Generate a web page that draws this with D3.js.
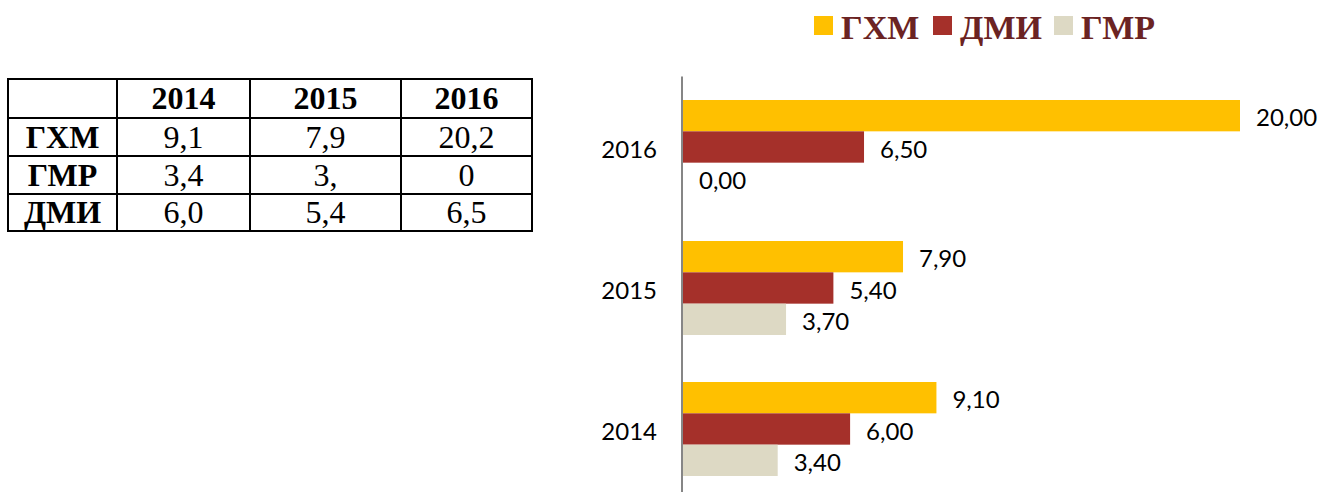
<!DOCTYPE html>
<html>
<head>
<meta charset="utf-8">
<script src="https://cdn.jsdelivr.net/npm/d3@7"></script>
<style>
  html, body { margin: 0; padding: 0; background: #fff; }
  svg { display: block; }
</style>
</head>
<body>
<svg id="chart" width="1332" height="492"></svg>
<script>
// ---- data ----
const years = ["2014", "2015", "2016"];
const seriesNames = ["ГХМ", "ДМИ", "ГМР"];
const valuesGXM = [9.1, 7.9, 20.0];
const valuesDMI = [6.0, 5.4, 6.5];
const valuesGMR = [3.4, 3.7, 0.0];
// table (as printed)
const tableHeader = ["", "2014", "2015", "2016"];
const tableRowNames = ["ГХМ", "ГМР", "ДМИ"];
const tableGXM = ["9,1", "7,9", "20,2"];
const tableGMR = ["3,4", "3,", "0"];
const tableDMI = ["6,0", "5,4", "6,5"];

const colors = { "ГХМ": "#FFC000", "ДМИ": "#A5302A", "ГМР": "#DDD9C4" };

const svg = d3.select("#chart");
const locale = d3.formatLocale({ decimal: ",", thousands: " ", grouping: [3], currency: ["", ""] });
const fmt = locale.format(".2f");

// ---- table ----
const colX = [8, 117, 250, 401, 532];
const rowY = [79, 118, 156, 194, 231];
const tableRows = [tableHeader,
  [tableRowNames[0], ...tableGXM],
  [tableRowNames[1], ...tableGMR],
  [tableRowNames[2], ...tableDMI]];
const tg = svg.append("g");
tg.selectAll("line.h").data(rowY).join("line")
  .attr("x1", colX[0] - 1).attr("x2", colX[colX.length - 1] + 1)
  .attr("y1", d => d).attr("y2", d => d)
  .attr("stroke", "#000").attr("stroke-width", 2);
tg.selectAll("line.v").data(colX).join("line")
  .attr("y1", rowY[0]).attr("y2", rowY[rowY.length - 1])
  .attr("x1", d => d).attr("x2", d => d)
  .attr("stroke", "#000").attr("stroke-width", 2);
tableRows.forEach((row, ri) => {
  row.forEach((txt, ci) => {
    if (!txt) return;
    const bold = ri === 0 || ci === 0;
    tg.append("text")
      .attr("x", (colX[ci] + colX[ci + 1]) / 2)
      .attr("y", (rowY[ri] + rowY[ri + 1]) / 2 + 10.5)
      .attr("text-anchor", "middle")
      .attr("font-family", "'Liberation Serif', 'Times New Roman', serif")
      .attr("font-size", 32)
      .attr("font-weight", bold ? "bold" : "normal")
      .attr("fill", "#000")
      .text(txt);
  });
});

// ---- bar chart ----
const chartYears = ["2016", "2015", "2014"];
const valueOf = {
  "ГХМ": valuesGXM, "ДМИ": valuesDMI, "ГМР": valuesGMR
};
const x = d3.scaleLinear().domain([0, 20]).range([683, 1240]);
const y0 = d3.scaleBand().domain(chartYears).range([76.5, 499.5]).padding(0);
const y1 = d3.scaleBand().domain(seriesNames).range([0, y0.bandwidth()])
  .paddingInner(0).paddingOuter(0.75);

const groups = svg.append("g").selectAll("g").data(chartYears).join("g")
  .attr("transform", d => `translate(0,${y0(d)})`);

const barData = yr => seriesNames.map(s => ({
  series: s, year: yr, value: valueOf[s][years.indexOf(yr)]
}));

groups.selectAll("rect").data(d => barData(d)).join("rect")
  .attr("x", x(0))
  .attr("y", d => y1(d.series))
  .attr("width", d => x(d.value) - x(0))
  .attr("height", y1.bandwidth())
  .attr("fill", d => colors[d.series]);

groups.selectAll("text.val").data(d => barData(d)).join("text")
  .attr("class", "val")
  .attr("x", d => x(d.value) + 16)
  .attr("y", d => y1(d.series) + y1.bandwidth() / 2)
  .attr("dy", "0.44em")
  .attr("font-family", "Lato, 'Open Sans', sans-serif")
  .attr("font-size", 24)
  .attr("fill", "#000")
  .text(d => fmt(d.value));

// axis line
svg.append("line")
  .attr("x1", x(0) - 1).attr("x2", x(0) - 1)
  .attr("y1", y0.range()[0]).attr("y2", y0.range()[1])
  .attr("stroke", "#868686").attr("stroke-width", 2);

// category labels
svg.append("g").selectAll("text").data(chartYears).join("text")
  .attr("x", x(0) - 26)
  .attr("y", d => y0(d) + y0.bandwidth() / 2)
  .attr("dy", "0.44em")
  .attr("text-anchor", "end")
  .attr("font-family", "Lato, 'Open Sans', sans-serif")
  .attr("font-size", 24)
  .attr("fill", "#000")
  .text(d => d);

// legend
const legendX = [814, 933, 1054];
const lg = svg.append("g").selectAll("g").data(seriesNames).join("g")
  .attr("transform", (d, i) => `translate(${legendX[i]},16)`);
lg.append("rect").attr("width", 19).attr("height", 19)
  .attr("fill", d => colors[d]);
lg.append("text")
  .attr("x", 27).attr("y", 23)
  .attr("font-family", "'Liberation Serif', 'Times New Roman', serif")
  .attr("font-weight", "bold")
  .attr("font-size", 34)
  .attr("fill", "#6B2323")
  .text(d => d);
</script>
</body>
</html>
